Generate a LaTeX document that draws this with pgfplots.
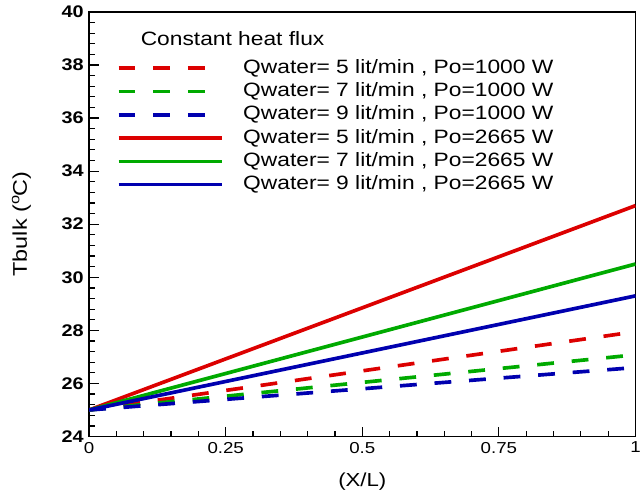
\documentclass[border=0pt]{standalone}
\usepackage{pgfplots}
\pgfplotsset{compat=1.18}
\usepackage{fontspec}
\setmainfont{Liberation Sans}[FakeStretch=1.18]
\definecolor{cred}{RGB}{220,0,0}
\definecolor{cgreen}{RGB}{0,170,0}
\definecolor{cblue}{RGB}{0,0,175}
\begin{document}
\begin{tikzpicture}
\begin{axis}[
  scale only axis,
  width=552pt, height=429pt,
  xmin=0, xmax=1, ymin=24, ymax=40,
  xtick={0,0.25,0.5,0.75,1},
  xticklabels={0,0.25,0.5,0.75,1},
  ytick={24,26,...,40},
  minor x tick num=4,
  minor y tick num=4,
  tick pos=left,
  tick align=inside,
  major tick length=10pt,
  minor tick length=6pt,
  every tick/.style={black, line width=1.2pt},
  axis line style={line width=1.5pt},
  /pgf/number format/assume math mode=true,
  xticklabel style={font=\fontsize{16}{16}\selectfont, yshift=-2pt},
  yticklabel style={font=\bfseries\fontsize{17}{17}\selectfont, xshift=-2pt},
  xlabel={(X/L)},
  ylabel={Tbulk ($^{\mathrm{o}}$C)},
  xlabel style={font=\fontsize{19}{19}\selectfont, yshift=-13pt},
  ylabel style={font=\fontsize{20}{20}\selectfont, yshift=24pt},
  legend cell align=left,
  legend style={draw=none, fill=none, at={(0.0507,0.887)}, anchor=north west,
    inner sep=0pt, outer sep=0pt,
    font=\fontsize{19.5}{19.5}\selectfont,
    nodes={inner sep=0pt, text height=13.5pt, text depth=3.5pt},
    row sep=6.5pt, column sep=20pt},
  legend image code/.code={\draw[#1] (0pt,0pt) -- (104pt,0pt);},
  clip=true,
]
\addplot[cred, line width=3.7pt, dash pattern=on 17pt off 18pt] coordinates {(0,25) (1,27.95)};
\addlegendentry{Qwater= 5 lit/min , Po=1000 W}
\addplot[cgreen, line width=3.7pt, dash pattern=on 17pt off 18pt] coordinates {(0,25) (1,27.08)};
\addlegendentry{Qwater= 7 lit/min , Po=1000 W}
\addplot[cblue, line width=3.7pt, dash pattern=on 17pt off 18pt] coordinates {(0,25) (1,26.6)};
\addlegendentry{Qwater= 9 lit/min , Po=1000 W}
\addplot[cred, line width=3.7pt] coordinates {(0,25) (1,32.7)};
\addlegendentry{Qwater= 5 lit/min , Po=2665 W}
\addplot[cgreen, line width=3.7pt] coordinates {(0,25) (1,30.5)};
\addlegendentry{Qwater= 7 lit/min , Po=2665 W}
\addplot[cblue, line width=3.7pt] coordinates {(0,25) (1,29.3)};
\addlegendentry{Qwater= 9 lit/min , Po=2665 W}
\node[anchor=west, inner sep=0pt, font=\fontsize{19.5}{19.5}\selectfont] at ([xshift=52pt,yshift=-27pt]rel axis cs:0,1) {Constant heat flux};
\end{axis}
\path[use as bounding box] ([xshift=-90pt,yshift=-53pt]current axis.south west) rectangle ([xshift=2pt,yshift=12pt]current axis.north east);
\end{tikzpicture}
\end{document}
